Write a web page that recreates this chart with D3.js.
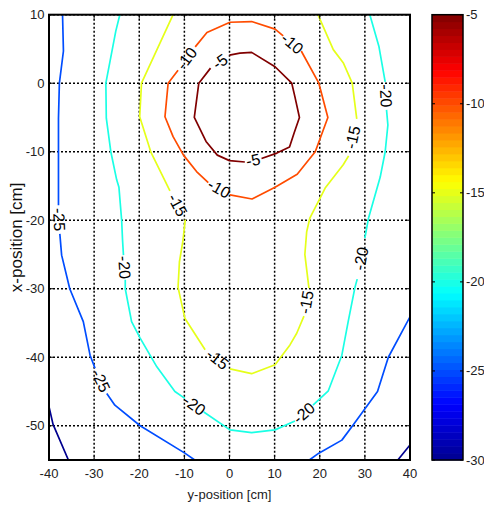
<!DOCTYPE html>
<html>
<head>
<meta charset="utf-8">
<title>contour</title>
<script src="https://d3js.org/d3.v7.min.js"></script>
<style>
  body { margin: 0; background: #fff; font-family: Arial, "Liberation Sans", sans-serif; }
  svg { display: block; }
  .grid line { stroke: #000; stroke-width: 1.5; stroke-dasharray: 2,2; }
  .tlabel { font-size: 13px; fill: #222; }
  .clabel { font-size: 16px; fill: #000; }
  .cline { fill: none; stroke-width: 1.7; stroke-linejoin: round; }
</style>
</head>
<body>
<svg width="484" height="505"></svg>
<script>
const xTicks = [-40, -30, -20, -10, 0, 10, 20, 30, 40];
const yTicks = [10, 0, -10, -20, -30, -40, -50];
const cbTicks = [-5, -10, -15, -20, -25, -30];

// contour lines as [y-position, x-position], cut where the labels go
const c5 = [
  [[-4.2, 2.2], [-6.8, 0], [-7.8, -5], [-5.2, -8.5], [-2.7, -10.5], [0, -11.3], [3.4, -11.5]],
  [[7.1, -11], [10.5, -10.2], [13.3, -9.3], [14.3, -7.3], [15.5, -5], [14.5, -2], [13.8, 0], [10.1, 2.4], [4.9, 4.5], [2.3, 4.4], [0, 4.1]]
];
const c10 = [
  [[-7.6, 5.3], [-5, 7.4], [0.1, 8.9], [4.9, 9.0], [10.1, 7.9], [11.9, 6.9]],
  [[15.9, 4.7], [19.8, 0], [21.8, -5], [19, -10], [15, -13.3], [10.1, -15.2], [5, -16.9], [0.1, -16.3]],
  [[-4.7, -14.5], [-7.3, -12.9], [-10.2, -10.5], [-12.5, -7.8], [-14.3, -4.9], [-13.6, 0], [-11.4, 1.9]]
];
const c15 = [
  [[-12.5, 10], [-19.5, 0], [-19.9, -4.9], [-17.4, -10.1], [-13.2, -15.7]],
  [[-9.8, -19.9], [-10.3, -22.9], [-11.1, -26.1], [-11.4, -29.8], [-9.9, -34.3], [-5.4, -38.9]],
  [[0.1, -41.7], [4.9, -42.4], [10.1, -41.1], [13.4, -38.2], [14.9, -36.5], [16.5, -34]],
  [[17.6, -29.9], [16.7, -25], [17.1, -21.7], [17.8, -19.7], [21.2, -15.3], [25.2, -11.9], [26.4, -10.6]],
  [[28.2, -5.2], [27.2, 0], [25.2, 3], [23, 4.9], [19.6, 10]]
];
const c20 = [
  [[-24.3, 10], [-25.2, 7.6], [-27.4, 0], [-27.3, -5.1], [-26.3, -10], [-25, -14.1], [-24.5, -15.2], [-23.9, -20], [-23.7, -22.9], [-23.5, -25.1]],
  [[-23.1, -28.7], [-23.1, -30], [-21.7, -34.8], [-19.8, -37.2], [-16.1, -41.4], [-12.1, -45], [-9.9, -46]],
  [[-5.7, -48], [0.1, -50.6], [4.9, -51], [10.1, -50.6], [14.5, -49.3]],
  [[18.5, -47], [21.9, -44.9], [24.9, -39.7], [26.3, -34.8], [27.8, -29.8], [28.3, -28.6]],
  [[30, -22.6], [30.8, -19.7], [33.4, -13.7], [34.5, -10], [35.1, -6.1], [34.8, -3.9]],
  [[34.5, 0.2], [33.1, 5.4], [31.1, 10]]
];
const c25a = [
  [[-37, 10], [-36.8, 4.7], [-37.7, 0], [-37.9, -5.1], [-37.9, -17.8]],
  [[-37.6, -22], [-37.2, -25.1], [-35.4, -30], [-32.4, -34.8], [-30.9, -39.7], [-29.8, -41.6]],
  [[-27.2, -45.3], [-25.4, -47], [-19.8, -50], [-9.9, -54], [-7.7, -55]]
];
const c25b = [
  [[40, -34.1], [35.2, -40], [32.8, -45], [27.4, -49.9], [24.9, -52.1], [19.8, -54], [17.7, -55]]
];
const c30a = [[[-40, -47.2], [-39.1, -49.8], [-35.7, -55]]];
const c30b = [[[40, -52.8], [37.3, -55]]];

const contourLines = [
  { level: -5, closed: true, pieces: c5 },
  { level: -10, closed: true, pieces: c10 },
  { level: -15, closed: false, pieces: c15 },
  { level: -20, closed: false, pieces: c20 },
  { level: -25, closed: false, pieces: c25a },
  { level: -25, closed: false, pieces: c25b },
  { level: -30, closed: false, pieces: c30a },
  { level: -30, closed: false, pieces: c30b }
];

const svg = d3.select("svg");
const pL = 49, pR = 410, pT = 14.7, pB = 460;

const x = d3.scaleLinear().domain([-40, 40]).range([pL, pR]);
const y = d3.scaleLinear().domain([-55, 10]).range([pB, pT]);

// jet colormap over the colour axis
const jetT = d3.scaleLinear()
  .domain([0, 0.125, 0.375, 0.625, 0.875, 1])
  .range(["#00008f", "#0000ff", "#00ffff", "#ffff00", "#ff0000", "#800000"]);
const cval = d3.scaleLinear().domain([-30, -5]).range([0, 1]);
const color = v => jetT(cval(v));

svg.append("defs").append("clipPath").attr("id", "clip")
  .append("rect").attr("x", pL).attr("y", pT)
  .attr("width", pR - pL).attr("height", pB - pT);

// grid
const grid = svg.append("g").attr("class", "grid");
grid.selectAll(".vx").data(xTicks).join("line")
  .attr("x1", d => x(d)).attr("x2", d => x(d))
  .attr("y1", pT).attr("y2", pB);
grid.selectAll(".hy").data(yTicks).join("line")
  .attr("x1", pL).attr("x2", pR)
  .attr("y1", d => y(d)).attr("y2", d => y(d));

// contours
const line = d3.line().x(d => x(d[0])).y(d => y(d[1]));
const cg = svg.append("g").attr("clip-path", "url(#clip)");
contourLines.forEach(c => {
  cg.selectAll(null).data(c.pieces).join("path")
    .attr("class", "cline")
    .attr("stroke", color(c.level))
    .attr("d", line);
});

// labels sit in the gaps between pieces
const labels = [];
contourLines.forEach(c => {
  const n = c.pieces.length;
  const gaps = c.closed ? n : n - 1;
  for (let i = 0; i < gaps; i++) {
    const a = c.pieces[i][c.pieces[i].length - 1];
    const b = c.pieces[(i + 1) % n][0];
    const ax = x(a[0]), ay = y(a[1]), bx = x(b[0]), by = y(b[1]);
    let ang = Math.atan2(by - ay, bx - ax) * 180 / Math.PI;
    if (ang > 90) ang -= 180;
    if (ang < -90) ang += 180;
    labels.push({ level: c.level, cx: (ax + bx) / 2, cy: (ay + by) / 2, ang });
  }
});
svg.append("g").selectAll("text").data(labels).join("text")
  .attr("class", "clabel")
  .attr("text-anchor", "middle")
  .attr("dominant-baseline", "central")
  .attr("transform", d => `translate(${d.cx},${d.cy}) rotate(${d.ang})`)
  .text(d => d.level);

// axes box and ticks
const ax = svg.append("g");
ax.append("rect").attr("x", pL).attr("y", pT)
  .attr("width", pR - pL).attr("height", pB - pT)
  .attr("fill", "none").attr("stroke", "#000").attr("stroke-width", 2);
ax.selectAll(".tb").data(xTicks).join("path")
  .attr("stroke", "#000").attr("stroke-width", 1)
  .attr("d", d => `M${x(d)},${pB}v-4M${x(d)},${pT}v4`);
ax.selectAll(".tl").data(yTicks).join("path")
  .attr("stroke", "#000").attr("stroke-width", 1)
  .attr("d", d => `M${pL},${y(d)}h4M${pR},${y(d)}h-4`);

ax.selectAll(".xl").data(xTicks).join("text")
  .attr("class", "tlabel").attr("text-anchor", "middle")
  .attr("x", d => x(d)).attr("y", 478)
  .text(d => d);
ax.selectAll(".yl").data(yTicks).join("text")
  .attr("class", "tlabel").attr("text-anchor", "end")
  .attr("dominant-baseline", "central")
  .attr("x", 44.5).attr("y", d => y(d))
  .text(d => d);

svg.append("text").attr("class", "tlabel").attr("text-anchor", "middle")
  .attr("x", (pL + pR) / 2).attr("y", 499)
  .text("y-position [cm]");
svg.append("text").attr("text-anchor", "middle")
  .attr("font-size", 17).attr("fill", "#111")
  .attr("transform", `translate(22,${(pT + pB) / 2}) rotate(-90)`)
  .text("x-position [cm]");

// colorbar
const cbL = 432, cbR = 463;
const cb = d3.scaleLinear().domain([-30, -5]).range([pB, pT]);
const nBands = 64;
const bands = d3.range(nBands);
const cbg = svg.append("g");
cbg.selectAll("rect").data(bands).join("rect")
  .attr("x", cbL).attr("width", cbR - cbL)
  .attr("y", i => cb(-30 + (i + 1) * 25 / nBands))
  .attr("height", i => cb(-30 + i * 25 / nBands) - cb(-30 + (i + 1) * 25 / nBands) + 0.5)
  .attr("fill", i => jetT((i + 0.5) / nBands));
cbg.append("rect").attr("x", cbL).attr("y", pT)
  .attr("width", cbR - cbL).attr("height", pB - pT)
  .attr("fill", "none").attr("stroke", "#000").attr("stroke-width", 1.5);
cbg.selectAll(".ct").data(cbTicks).join("path")
  .attr("stroke", "#000").attr("stroke-width", 1)
  .attr("d", d => `M${cbR},${cb(d)}h-3M${cbL},${cb(d)}h3`);
cbg.selectAll(".cl").data(cbTicks).join("text")
  .attr("class", "tlabel").attr("dominant-baseline", "central")
  .attr("x", cbR + 3).attr("y", d => cb(d))
  .text(d => d);
</script>
</body>
</html>
